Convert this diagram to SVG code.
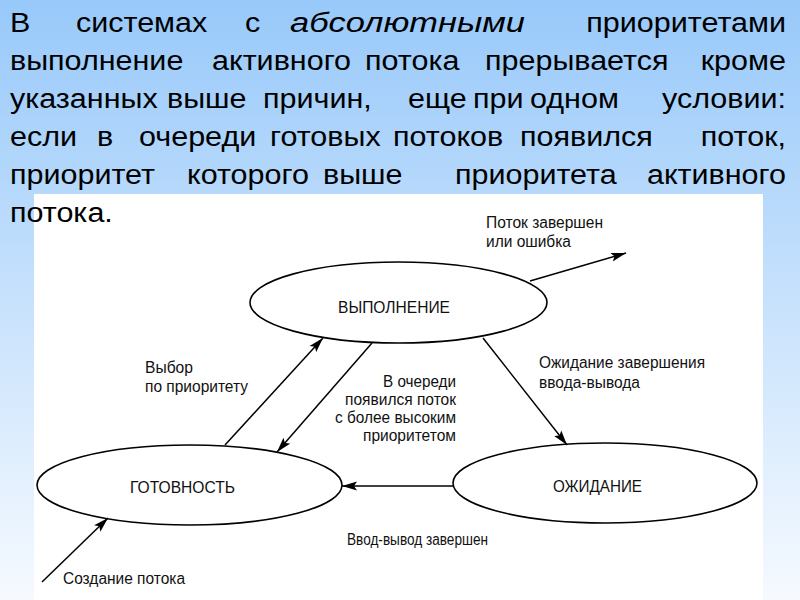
<svg xmlns="http://www.w3.org/2000/svg" width="800" height="600" viewBox="0 0 800 600">
<defs>
<linearGradient id="bg" x1="0" y1="0" x2="0" y2="1">
<stop offset="0" stop-color="#98C9FA"/>
<stop offset="1" stop-color="#F6FAFF"/>
</linearGradient>
<marker id="ah" markerUnits="userSpaceOnUse" markerWidth="16" markerHeight="10" refX="15" refY="5" orient="auto">
<path d="M0,0.5 L15,5 L0,9.5 L3,5 z" fill="#000"/>
</marker>
<style>
.body{font-family:"Liberation Sans",Arial,sans-serif;font-size:28px;fill:#000}
.lbl{font-family:"Liberation Sans",Arial,sans-serif;font-size:16px;fill:#111}
.st{font-family:"Liberation Sans",Arial,sans-serif;font-size:17px;fill:#111}
.el{fill:none;stroke:#000;stroke-width:1.6}
.ed{fill:none;stroke:#000;stroke-width:1.5;marker-end:url(#ah)}
</style>
</defs>
<rect width="800" height="600" fill="url(#bg)"/>
<rect x="34" y="194" width="729" height="406" fill="#fff"/>
<g id="paragraph" class="body" transform="scale(1.09,1)">
<text y="32"><tspan x="9.17">В</tspan><tspan x="69.72">системах</tspan><tspan x="224.77">с</tspan></text>
<text x="266.06" y="32" font-style="italic" textLength="215.6" lengthAdjust="spacingAndGlyphs">абсолютными</text>
<text x="721.1" y="32" text-anchor="end">приоритетами</text>
<text y="70"><tspan x="9.17">выполнение</tspan><tspan x="194.5">активного</tspan><tspan x="334.86">потока</tspan><tspan x="444.95">прерывается</tspan><tspan x="721.1" text-anchor="end">кроме</tspan></text>
<text y="108"><tspan x="9.17">указанных</tspan><tspan x="153.21">выше</tspan><tspan x="241.28">причин,</tspan><tspan x="374.31">еще</tspan><tspan x="433.94">при</tspan><tspan x="486.24">одном</tspan><tspan x="721.1" text-anchor="end">условии:</tspan></text>
<text y="146"><tspan x="9.17">если</tspan><tspan x="88.99">в</tspan><tspan x="127.52">очереди</tspan><tspan x="247.71">готовых</tspan><tspan x="360.55">потоков</tspan><tspan x="477.06">появился</tspan><tspan x="721.1" text-anchor="end">поток,</tspan></text>
<text y="184"><tspan x="9.17">приоритет</tspan><tspan x="171.56">которого</tspan><tspan x="296.33">выше</tspan><tspan x="417.43">приоритета</tspan><tspan x="721.1" text-anchor="end">активного</tspan></text>
<text y="222"><tspan x="9.17">потока.</tspan></text>
</g>
<g id="connectors">
<path class="ed" d="M530,281 L626,253"/>
<path class="ed" d="M225,445 L323,338"/>
<path class="ed" d="M372,343 L277,452"/>
<path class="ed" d="M483,338 L567,445"/>
<path class="ed" d="M453,486 L342,486"/>
<path class="ed" d="M42,582 L108,518"/>
</g>
<g id="node-run">
<ellipse class="el" cx="398.5" cy="302.5" rx="148.5" ry="40.5"/>
<text class="st" x="338" y="313" textLength="112" lengthAdjust="spacingAndGlyphs">ВЫПОЛНЕНИЕ</text>
</g>
<g id="node-ready">
<ellipse class="el" cx="189.5" cy="485" rx="152.5" ry="40"/>
<text class="st" x="130" y="493" textLength="105" lengthAdjust="spacingAndGlyphs">ГОТОВНОСТЬ</text>
</g>
<g id="node-wait">
<ellipse class="el" cx="605" cy="483" rx="152" ry="40"/>
<text class="st" x="553" y="492" textLength="89" lengthAdjust="spacingAndGlyphs">ОЖИДАНИЕ</text>
</g>
<g id="labels" class="lbl">
<text x="486" y="228" textLength="117" lengthAdjust="spacingAndGlyphs">Поток завершен</text>
<text x="486" y="247" textLength="85" lengthAdjust="spacingAndGlyphs">или ошибка</text>
<text x="145" y="373" textLength="48" lengthAdjust="spacingAndGlyphs">Выбор</text>
<text x="145" y="392" textLength="103" lengthAdjust="spacingAndGlyphs">по приоритету</text>
<text x="383" y="387" textLength="73" lengthAdjust="spacingAndGlyphs">В очереди</text>
<text x="345" y="405" textLength="111" lengthAdjust="spacingAndGlyphs">появился поток</text>
<text x="335" y="423" textLength="121" lengthAdjust="spacingAndGlyphs">с более высоким</text>
<text x="363" y="441" textLength="93" lengthAdjust="spacingAndGlyphs">приоритетом</text>
<text x="539" y="368" textLength="166" lengthAdjust="spacingAndGlyphs">Ожидание завершения</text>
<text x="539" y="388" textLength="101" lengthAdjust="spacingAndGlyphs">ввода-вывода</text>
<text x="347" y="545" textLength="141" lengthAdjust="spacingAndGlyphs">Ввод-вывод завершен</text>
<text x="63" y="584" textLength="122" lengthAdjust="spacingAndGlyphs">Создание потока</text>
</g>
</svg>
